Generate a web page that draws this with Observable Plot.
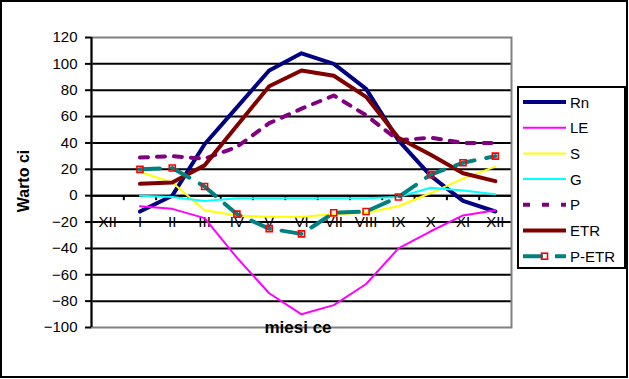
<!DOCTYPE html>
<html>
<head>
<meta charset="utf-8">
<script src="https://cdn.jsdelivr.net/npm/d3@7"></script>
<script src="https://cdn.jsdelivr.net/npm/@observablehq/plot@0.6"></script>
<style>
  html, body { margin: 0; padding: 0; background: white; }
  #chart { width: 629px; height: 379px; overflow: hidden; }
</style>
</head>
<body>
<div id="chart"></div>
<script>
// Category labels (first XII is an empty category)
const months = ["XII", "I", "II", "III", "IV", "V", "VI", "VII", "VIII", "IX", "X", "XI", "XII"];
// Series values for I..XII
const Rn   = [-12, 0, 39, 67, 95, 108, 100, 81, 42, 15, -4, -12];
const LE   = [-8, -10, -17, -47, -74, -90, -83, -67, -40, -27, -15, -11];
const S    = [18, 10, -11, -15, -16, -16, -14, -13, -8, 2, 13, 22];
const G    = [0, -1, -4, -2, -2, -2, -2, -2, -1, 6, 4, 1];
const P    = [29, 30, 28, 37, 55, 66, 76, 61, 42, 44, 40, 40];
const ETR  = [9, 10, 23, 53, 83, 95, 91, 75, 44, 31, 17, 11];
const PETR = [20, 21, 7, -14, -25, -29, -13, -12, -1, 16, 25, 30];
const yTicks = [-100, -80, -60, -40, -20, 0, 20, 40, 60, 80, 100, 120];
const seriesNames = ["Rn", "LE", "S", "G", "P", "ETR", "P-ETR"];

const idx = months.map((_, i) => i);
const xDomain = [-0.5, months.length - 0.5];
const bounds = d3.range(0, months.length - 1).map(i => i + 0.5);
const toRows = vals => vals.map((v, i) => ({x: i + 1, y: v}));

const styles = {
  "Rn":    {stroke: "#000080", strokeWidth: 4},
  "LE":    {stroke: "#FF00FF", strokeWidth: 2},
  "S":     {stroke: "#FFFF00", strokeWidth: 2},
  "G":     {stroke: "#00FFFF", strokeWidth: 2},
  "P":     {stroke: "#800080", strokeWidth: 4, strokeDasharray: "8,9"},
  "ETR":   {stroke: "#800000", strokeWidth: 4},
  "P-ETR": {stroke: "#008080", strokeWidth: 4, strokeDasharray: "20,12"}
};
const data = {"Rn": Rn, "LE": LE, "S": S, "G": G, "P": P, "ETR": ETR, "P-ETR": PETR};

const chart = Plot.plot({
  width: 629,
  height: 379,
  marginTop: 37,
  marginBottom: 52,
  marginLeft: 91,
  marginRight: 118,
  style: {fontFamily: "'Liberation Sans', Arial, sans-serif", fontSize: "15px", color: "black", background: "white"},
  x: {type: "linear", domain: xDomain, axis: null},
  y: {domain: [yTicks[0], yTicks[yTicks.length - 1]], axis: null},
  marks: [
    Plot.ruleY(yTicks.slice(1, -1), {stroke: "black", strokeWidth: 2}),
    Plot.frame({stroke: "#808080", strokeWidth: 2}),
    Plot.ruleX([xDomain[0]], {stroke: "black", strokeWidth: 2}),
    Plot.axisY({ticks: yTicks, tickSize: 6, tickPadding: 8, fontSize: 15, stroke: "black", strokeWidth: 2, label: null}),
    Plot.ruleY([0], {stroke: "black", strokeWidth: 2}),
    Plot.ruleX(bounds, {y1: 0, y2: 0, insetBottom: -5, stroke: "black", strokeWidth: 2}),
    Plot.text(idx, {x: d => d, y: 0, dy: 27, text: d => months[d], fontSize: 15, fill: "black"}),
    ...seriesNames.map(n => Plot.line(toRows(data[n]), {x: "x", y: "y", ...styles[n], strokeLinejoin: "round"})),
    Plot.dot(toRows(PETR), {x: "x", y: "y", symbol: "square", r: 3.4, stroke: "#FF0000", strokeWidth: 1.6, fill: "none"})
  ]
});

const svg = d3.select(chart);
// Axis titles
svg.append("text")
  .attr("transform", "translate(23,181) rotate(-90)")
  .attr("text-anchor", "middle").attr("dominant-baseline", "central")
  .attr("font-weight", "bold").attr("font-size", 16).attr("fill", "black")
  .text("Warto ci");
svg.append("text")
  .attr("x", 298).attr("y", 327)
  .attr("text-anchor", "middle").attr("dominant-baseline", "central")
  .attr("font-weight", "bold").attr("font-size", 17).attr("fill", "black")
  .text("miesi ce");

// Legend
const lg = svg.append("g");
lg.append("rect").attr("x", 518).attr("y", 87).attr("width", 107).attr("height", 181)
  .attr("fill", "white").attr("stroke", "black").attr("stroke-width", 2);
seriesNames.forEach((n, i) => {
  const y = 102 + i * 25.7;
  const st = styles[n];
  const line = lg.append("line").attr("x1", 523).attr("x2", 566).attr("y1", y).attr("y2", y)
    .attr("stroke", st.stroke).attr("stroke-width", st.strokeWidth);
  if (n === "P") line.attr("stroke-dasharray", "7,12");
  if (n === "P-ETR") {
    line.attr("stroke-dasharray", "20,12");
    lg.append("rect").attr("x", 541.5).attr("y", y - 3).attr("width", 6).attr("height", 6)
      .attr("fill", "none").attr("stroke", "#FF0000").attr("stroke-width", 1.6);
  }
  lg.append("text").attr("x", 570).attr("y", y).attr("dominant-baseline", "central")
    .attr("text-anchor", "start")
    .attr("font-size", 15).attr("fill", "black").text(n);
});
// Outer border
svg.append("rect").attr("x", 1).attr("y", 1).attr("width", 626).attr("height", 376)
  .attr("fill", "none").attr("stroke", "black").attr("stroke-width", 2);

document.getElementById("chart").appendChild(chart);
</script>
</body>
</html>
